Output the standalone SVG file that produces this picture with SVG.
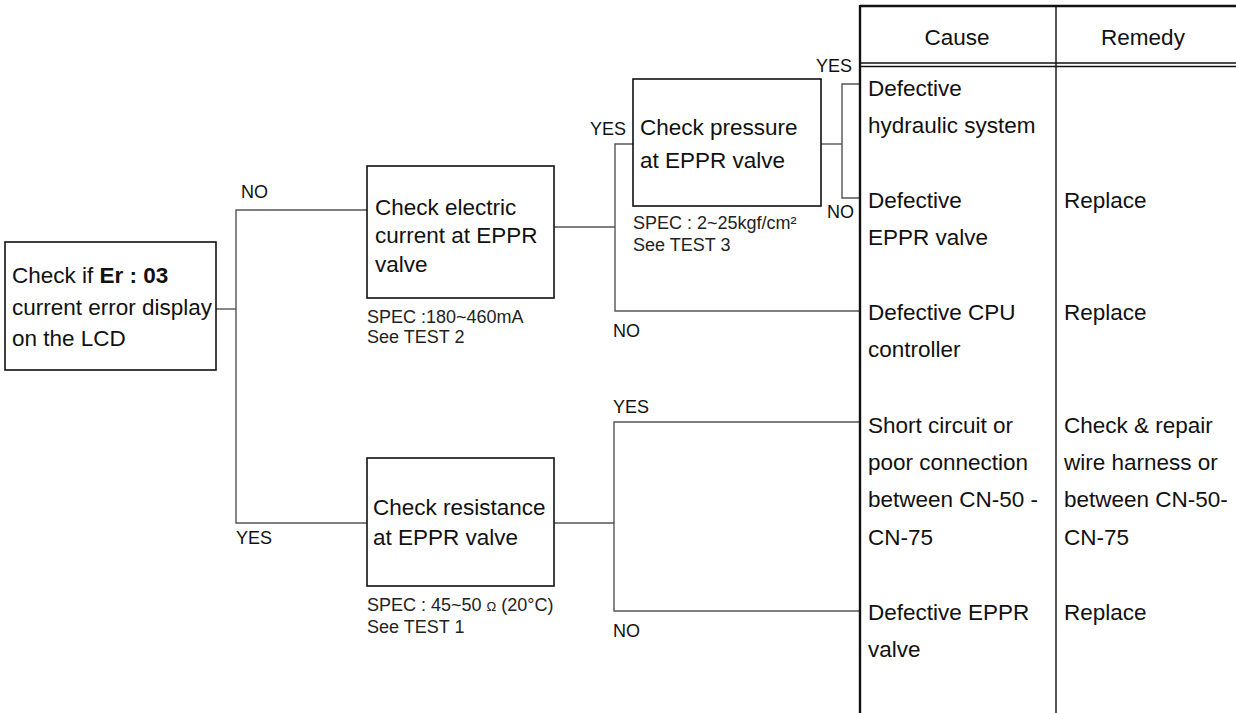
<svg xmlns="http://www.w3.org/2000/svg" width="1236" height="713" viewBox="0 0 1236 713">
<style>
text{font-family:"Liberation Sans",Arial,sans-serif;fill:#111}
.b{font-size:22.5px}
.s{font-size:18px;fill:#222}
.l{font-size:18px}
.box{fill:#fff;stroke:#111;stroke-width:1.6}
.c{fill:none;stroke:#555;stroke-width:1.4}
.t{fill:none;stroke:#111;stroke-width:2.4}
.t1{fill:none;stroke:#111;stroke-width:1.4}
</style>
<rect width="1236" height="713" fill="#fff"/>
<g id="connectors">
<polyline class="c" points="216,309 236,309"/>
<polyline class="c" points="367,210 236,210 236,523 367,523"/>
<polyline class="c" points="554,227 615,227"/>
<polyline class="c" points="633,144 615,144 615,311 860,311"/>
<polyline class="c" points="821,144 842,144"/>
<polyline class="c" points="860,84 842,84 842,198 860,198"/>
<polyline class="c" points="554,523 614,523"/>
<polyline class="c" points="860,422 614,422 614,611 860,611"/>
<text class="l" x="241" y="198">NO</text>
<text class="l" x="236" y="544">YES</text>
<text class="l" x="590" y="135">YES</text>
<text class="l" x="613" y="337">NO</text>
<text class="l" x="816" y="72">YES</text>
<text class="l" x="827" y="218">NO</text>
<text class="l" x="613" y="413">YES</text>
<text class="l" x="613" y="637">NO</text>
</g>
<g id="n1">
<rect class="box" x="5" y="242" width="211" height="128"/>
<text class="b" x="12" y="283">Check if <tspan font-weight="bold">Er : 03</tspan></text>
<text class="b" x="12" y="315">current error display</text>
<text class="b" x="12" y="346">on the LCD</text>
</g>
<g id="n2">
<rect class="box" x="367" y="166" width="187" height="132"/>
<text class="b" x="375" y="215">Check electric</text>
<text class="b" x="375" y="243">current at EPPR</text>
<text class="b" x="375" y="272">valve</text>
<text class="s" x="367" y="323">SPEC :180~460mA</text>
<text class="s" x="367" y="343">See TEST 2</text>
</g>
<g id="n3">
<rect class="box" x="633" y="79" width="188" height="127"/>
<text class="b" x="640" y="135">Check pressure</text>
<text class="b" x="640" y="168">at EPPR valve</text>
<text class="s" x="633" y="229">SPEC : 2~25kgf/cm²</text>
<text class="s" x="633" y="251">See TEST 3</text>
</g>
<g id="n4">
<rect class="box" x="367" y="458" width="187" height="128"/>
<text class="b" x="373" y="515">Check resistance</text>
<text class="b" x="373" y="545">at EPPR valve</text>
<text class="s" x="367" y="611">SPEC : 45~50 <tspan font-size="13">Ω</tspan> (20°C)</text>
<text class="s" x="367" y="633">See TEST 1</text>
</g>
<g id="table">
<line class="t" x1="860" y1="6" x2="1236" y2="6"/>
<line class="t" x1="860" y1="5" x2="860" y2="713"/>
<line class="t1" x1="1056" y1="6" x2="1056" y2="713"/>
<line class="t1" x1="860" y1="63" x2="1236" y2="63"/>
<line class="t1" x1="860" y1="66.5" x2="1236" y2="66.5"/>
<text class="b" x="957" y="45" text-anchor="middle">Cause</text>
<text class="b" x="1143" y="45" text-anchor="middle">Remedy</text>
<text class="b" x="868" y="96">Defective</text>
<text class="b" x="868" y="133">hydraulic system</text>
<text class="b" x="868" y="208">Defective</text>
<text class="b" x="868" y="245">EPPR valve</text>
<text class="b" x="1064" y="208">Replace</text>
<text class="b" x="868" y="320">Defective CPU</text>
<text class="b" x="868" y="357">controller</text>
<text class="b" x="1064" y="320">Replace</text>
<text class="b" x="868" y="433">Short circuit or</text>
<text class="b" x="868" y="470">poor connection</text>
<text class="b" x="868" y="507">between CN-50 -</text>
<text class="b" x="868" y="545">CN-75</text>
<text class="b" x="1064" y="433">Check &amp; repair</text>
<text class="b" x="1064" y="470">wire harness or</text>
<text class="b" x="1064" y="507">between CN-50-</text>
<text class="b" x="1064" y="545">CN-75</text>
<text class="b" x="868" y="620">Defective EPPR</text>
<text class="b" x="868" y="657">valve</text>
<text class="b" x="1064" y="620">Replace</text>
</g>
</svg>
